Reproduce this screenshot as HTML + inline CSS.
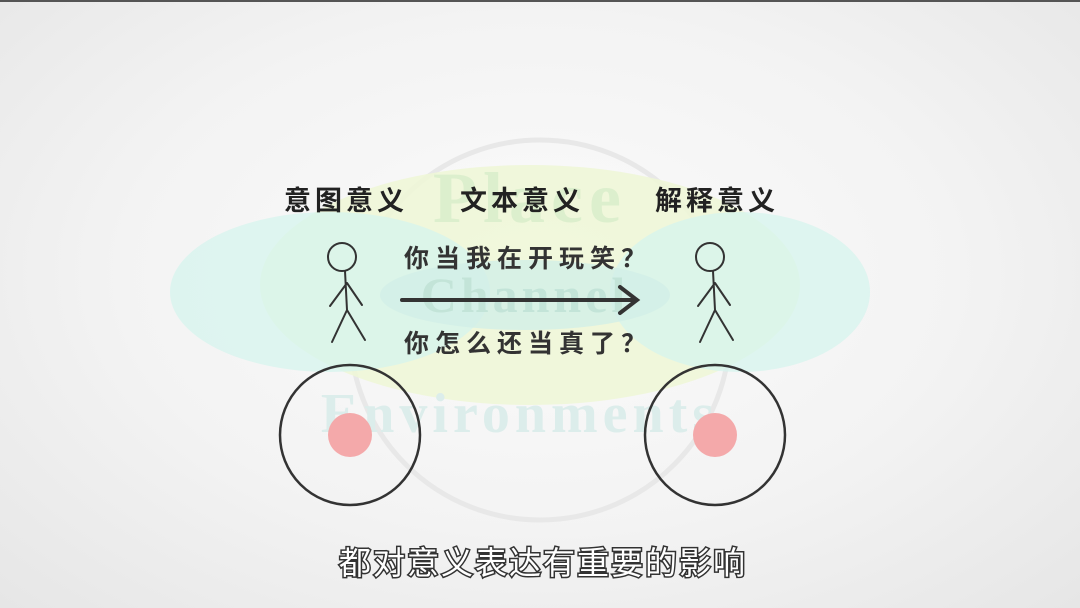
<!DOCTYPE html>
<html><head><meta charset="utf-8"><style>
html,body{margin:0;padding:0;}
body{width:1080px;height:608px;overflow:hidden;background:radial-gradient(ellipse at 50% 45%,#fbfbfb 0%,#f3f3f3 55%,#e6e6e6 100%);font-family:"Liberation Sans","Noto Sans CJK SC",sans-serif;position:relative;}
.t{position:absolute;font-weight:bold;color:#222;white-space:nowrap;letter-spacing:4px;}
</style></head><body>
<div style="position:absolute;left:0;top:0;width:1080px;height:2px;background:#555"></div>
<svg width="1080" height="608" style="position:absolute;left:0;top:0">
 <circle cx="540" cy="330" r="190" fill="none" stroke="#e8e8e8" stroke-width="5"/>
 <ellipse cx="530" cy="285" rx="270" ry="120" fill="#eff7d6" opacity="0.85"/>
 <ellipse cx="330" cy="292" rx="160" ry="80" fill="#d6f4ed" opacity="0.75"/>
 <ellipse cx="740" cy="292" rx="130" ry="80" fill="#d6f4ed" opacity="0.75"/>
 <ellipse cx="525" cy="295" rx="145" ry="35" fill="#d2efe7" opacity="0.8"/>
 <text x="530" y="222" text-anchor="middle" font-family="Liberation Serif,serif" font-size="72" font-weight="bold" fill="#dcefcd" letter-spacing="6">Place</text>
 <text x="525" y="312" text-anchor="middle" font-family="Liberation Serif,serif" font-size="50" font-weight="bold" fill="#c3e4d8" letter-spacing="4">Channel</text>
 <text x="520" y="432" text-anchor="middle" font-family="Liberation Serif,serif" font-size="56" font-weight="bold" fill="#dcedeb" letter-spacing="5">Environments</text>
 <g stroke="#333" stroke-width="2" fill="none" stroke-linecap="round">
  <circle cx="342" cy="257" r="14"/><path d="M345 271 L347 310 M347 283 L330 306 M347 283 L362 305 M347 310 L332 342 M347 310 L365 340"/>
 </g>
 <g stroke="#333" stroke-width="2" fill="none" stroke-linecap="round">
  <circle cx="710" cy="257" r="14"/><path d="M713 271 L715 310 M715 283 L698 306 M715 283 L730 305 M715 310 L700 342 M715 310 L733 340"/>
 </g>
 <g stroke="#333" stroke-width="4" fill="none" stroke-linecap="round">
  <path d="M402 300 L636 300 M620 287 L637 300 L620 313"/>
 </g>
 <circle cx="350" cy="435" r="70" fill="none" stroke="#333" stroke-width="2.5"/>
 <circle cx="350" cy="435" r="22" fill="#f4a9aa"/>
 <circle cx="715" cy="435" r="70" fill="none" stroke="#333" stroke-width="2.5"/>
 <circle cx="715" cy="435" r="22" fill="#f4a9aa"/>
 <text x="543" y="574" text-anchor="middle" font-family="Liberation Sans,Noto Sans CJK SC,sans-serif" font-size="32" fill="#fff" stroke="#333" stroke-width="3" paint-order="stroke" letter-spacing="2">都对意义表达有重要的影响</text>
</svg>
<div class="t" style="left:284px;top:179px;font-size:27px">意图意义</div>
<div class="t" style="left:460px;top:179px;font-size:27px">文本意义</div>
<div class="t" style="left:655px;top:179px;font-size:27px">解释意义</div>
<div class="t" style="left:404px;top:239px;font-size:25px;color:#333;letter-spacing:6px">你当我在开玩笑？</div>
<div class="t" style="left:404px;top:324px;font-size:25px;color:#333;letter-spacing:6px">你怎么还当真了？</div>
</body></html>
